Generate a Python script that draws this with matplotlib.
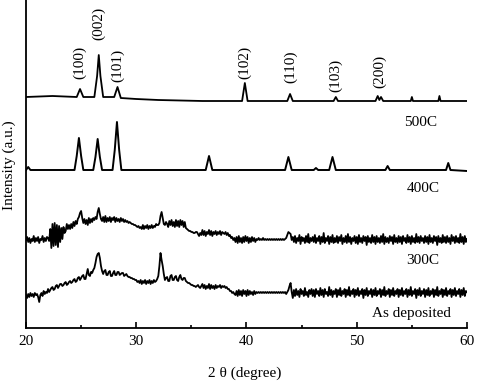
import numpy as np                    # Numerics
import matplotlib
matplotlib.use('Agg')
import matplotlib.pyplot as plt        # Plotting library

plt.rcParams['font.family'] = ['Liberation Serif', 'DejaVu Serif']
plt.rcParams['font.size'] = 11

# Scan grid for the two noisy patterns (2 theta, degree), 0.1 degree step
two_theta = np.round(np.arange(20, 60.001, 0.1), 1)

# As deposited film, intensity (a.u.) on the scan grid (one row = 2 degrees)
as_dep = [33, 30, 34, 31, 35, 32, 34, 31, 35, 33, 34, 31, 26, 33, 35, 32, 37, 34, 36, 35,
          39, 36, 38, 40, 41, 38, 39, 42, 43, 40, 42, 44, 44, 42, 43, 45, 46, 43, 44, 46,
          47, 45, 46, 48, 49, 46, 47, 50, 51, 48, 50, 52, 53, 49, 49, 54, 59, 53, 52, 56,
          55, 58, 60, 65, 71, 74, 75, 70, 62, 57, 54, 57, 58, 53, 53, 56, 57, 52, 52, 55,
          57, 53, 53, 56, 56, 53, 54, 55, 55, 52, 53, 54, 52, 51, 51, 50, 50, 49, 49, 48,
          48, 46, 47, 45, 48, 44, 47, 45, 48, 44, 47, 45, 48, 44, 47, 45, 48, 46, 47, 49,
          52, 62, 75, 68, 62, 54, 48, 50, 51, 47, 47, 52, 53, 48, 48, 51, 52, 48, 47, 51,
          53, 49, 48, 50, 50, 47, 46, 45, 45, 44, 43, 43, 42, 42, 41, 42, 43, 41, 40, 42,
          44, 40, 43, 39, 42, 40, 44, 39, 43, 40, 42, 39, 43, 40, 42, 41, 43, 40, 42, 41,
          42, 40, 41, 39, 39, 37, 37, 35, 36, 34, 33, 37, 32, 38, 33, 37, 32, 38, 34, 37,
          32, 38, 33, 37, 34, 36, 33, 37, 34, 36, 35, 36, 35, 36, 35, 36, 35, 36, 35, 36,
          35, 36, 35, 36, 35, 36, 35, 36, 35, 36, 35, 36, 35, 36, 35, 36, 34, 36, 38, 42,
          45, 36, 30, 38, 32, 39, 33, 37, 31, 39, 34, 37, 32, 40, 33, 36, 31, 38, 34, 39,
          32, 38, 31, 39, 34, 37, 32, 40, 33, 38, 31, 39, 34, 36, 32, 41, 33, 38, 31, 37,
          34, 39, 31, 38, 33, 40, 32, 37, 34, 39, 31, 38, 33, 41, 32, 37, 34, 39, 31, 38,
          33, 40, 32, 37, 34, 39, 30, 38, 33, 40, 32, 37, 34, 39, 31, 38, 33, 40, 32, 37,
          34, 39, 31, 38, 33, 41, 32, 37, 34, 39, 31, 38, 33, 40, 32, 37, 34, 39, 31, 38,
          33, 40, 32, 37, 34, 39, 31, 38, 33, 41, 32, 37, 34, 39, 30, 38, 33, 40, 32, 37,
          34, 39, 31, 38, 33, 40, 32, 37, 34, 39, 31, 38, 33, 41, 32, 37, 34, 39, 31, 38,
          33, 40, 32, 37, 34, 39, 31, 38, 33, 40, 32, 37, 34, 39, 31, 38, 33, 40, 32, 37,
          36]

# Annealed at 300C, intensity (a.u.) on the scan grid (one row = 2 degrees)
t300 = [88, 91, 86, 90, 85, 89, 87, 92, 86, 90, 87, 91, 85, 89, 88, 92, 86, 90, 87, 91,
        90, 87, 99, 80, 104, 82, 105, 83, 103, 81, 102, 86, 100, 89, 101, 95, 97, 104, 99, 103,
        99, 104, 100, 106, 102, 107, 104, 109, 111, 115, 117, 110, 105, 109, 104, 108, 103, 110, 105, 109,
        106, 110, 108, 111, 109, 116, 120, 114, 109, 107, 111, 106, 112, 106, 110, 107, 111, 106, 110, 108,
        111, 106, 110, 107, 109, 106, 110, 107, 109, 106, 108, 106, 107, 105, 106, 105, 104, 104, 103, 103,
        102, 101, 102, 100, 101, 99, 103, 99, 102, 100, 103, 99, 102, 100, 103, 100, 102, 101, 104, 103,
        103, 105, 112, 116, 110, 104, 103, 106, 104, 101, 107, 103, 108, 102, 106, 101, 108, 102, 107, 101,
        108, 103, 107, 101, 106, 100, 99, 98, 97, 97, 96, 96, 95, 95, 96, 96, 94, 92, 95, 93,
        98, 93, 97, 92, 96, 94, 98, 93, 97, 92, 96, 94, 97, 93, 96, 94, 97, 93, 96, 95,
        94, 96, 93, 95, 92, 93, 90, 91, 88, 90, 86, 91, 85, 92, 86, 90, 85, 91, 86, 92,
        87, 91, 85, 90, 86, 91, 87, 90, 86, 89, 88, 90, 88, 89, 88, 90, 88, 89, 88, 89,
        88, 89, 88, 89, 88, 89, 88, 89, 88, 89, 88, 89, 88, 89, 88, 89, 90, 93, 96, 95,
        94, 88, 91, 86, 92, 85, 90, 87, 93, 84, 91, 87, 90, 85, 92, 86, 94, 85, 90, 87,
        91, 86, 93, 85, 90, 87, 92, 84, 91, 86, 95, 85, 90, 87, 92, 84, 91, 86, 93, 85,
        90, 86, 92, 85, 91, 87, 93, 84, 90, 86, 92, 85, 94, 86, 91, 84, 90, 87, 92, 85,
        91, 84, 93, 86, 90, 85, 92, 87, 91, 83, 92, 86, 90, 85, 93, 86, 91, 84, 92, 86,
        90, 85, 92, 86, 94, 84, 91, 86, 90, 85, 92, 87, 91, 84, 93, 86, 90, 85, 92, 86,
        91, 84, 92, 87, 90, 85, 93, 86, 91, 84, 92, 86, 90, 85, 94, 86, 91, 85, 92, 87,
        90, 85, 92, 86, 91, 84, 93, 86, 90, 85, 92, 87, 91, 83, 92, 86, 90, 85, 93, 86,
        91, 85, 92, 86, 90, 84, 93, 87, 91, 85, 92, 86, 90, 85, 94, 86, 91, 84, 92, 86,
        89]

# Annealed at 400C: 2 theta and intensity of the trace
t400_x = [20.0, 20.2, 20.4, 24.4, 24.6, 24.8, 25.0, 25.2, 26.1, 26.3, 26.5, 26.7, 26.9,
          27.85, 28.05, 28.25, 28.45, 28.65, 36.3, 36.6, 36.9, 43.5, 43.8, 44.1,
          46.1, 46.3, 46.5, 47.5, 47.8, 48.1, 52.6, 52.8, 53.0, 58.1, 58.3, 58.5, 60.0]
t400_y = [158, 161, 158, 158, 172, 190, 172, 158, 158, 171, 189, 171, 158,
          158, 178, 206, 178, 158, 158, 172, 158, 158, 171, 158,
          158, 160, 158, 158, 171, 158, 158, 162, 158, 158, 165, 158, 157]

# Annealed at 500C: 2 theta and intensity of the trace
t500_x = [20.0, 22.4, 24.6, 24.9, 25.2, 26.2, 26.45, 26.6, 26.75, 27.0, 28.0, 28.3, 28.6,
          30.0, 32.0, 36.0, 39.6, 39.85, 40.1, 43.7, 43.95, 44.2, 47.9, 48.1, 48.3,
          51.7, 51.9, 52.05, 52.2, 52.4, 54.9, 55.0, 55.1, 57.4, 57.5, 57.6, 60.0]
t500_y = [231, 232, 231, 239, 231, 231, 252, 273, 252, 231, 231, 241, 230,
          229, 228, 227, 227, 245, 227, 227, 234, 227, 227, 231, 227,
          227, 232, 228, 231, 227, 227, 231, 227, 227, 232, 227, 227]

# Miller indices of the 500C reflections
hkl_labels = ['(100)', '(002)', '(101)', '(102)', '(110)', '(103)', '(200)']
hkl_pos = [24.9, 26.6, 28.3, 39.85, 44.0, 48.1, 52.1]
hkl_level = [266, 305, 263, 266, 261, 253, 257]

# Sample names
sample_names = ['500C', '400C', '300C', 'As deposited']
name_x = [55.75, 56.0, 56.0, 55.0]
name_y = [205, 139, 67, 15]

fig = plt.figure(figsize=(4.81, 3.90), dpi=100)
ax = fig.add_axes([26 / 481, 62 / 390, 441 / 481, 328 / 390])

ax.plot(two_theta, as_dep, color='black', lw=1.3)
ax.plot(two_theta, t300, color='black', lw=1.3)
ax.plot(t400_x, t400_y, color='black', lw=1.4)
ax.plot(t500_x, t500_y, color='black', lw=1.3)

for lab, px, py in zip(hkl_labels, hkl_pos, hkl_level):
    ax.text(px, py, lab, rotation=90, ha='center', va='center')
for lab, px, py in zip(sample_names, name_x, name_y):
    ax.text(px, py, lab, ha='center', va='center')

ax.set_xlim(20, 60)
ax.set_ylim(0, 328)
ax.set_xticks([20, 30, 40, 50, 60])
ax.set_xticks([25, 35, 45, 55], minor=True)
ax.set_yticks([])
ax.tick_params(axis='x', which='major', direction='in', length=4.5, width=1.2, pad=5)
ax.tick_params(axis='x', which='minor', direction='in', length=2.5, width=1.2)
for s in ['top', 'right']:
    ax.spines[s].set_visible(False)
for s in ['left', 'bottom']:
    ax.spines[s].set_linewidth(1.3)

fig.text(245 / 481, 1 - 373 / 390, '2 θ (degree)', ha='center', va='center')
fig.text(9 / 481, 1 - 165 / 390, 'Intensity (a.u.)', rotation=90, ha='center', va='center')

fig.savefig('out.png', dpi=100)
